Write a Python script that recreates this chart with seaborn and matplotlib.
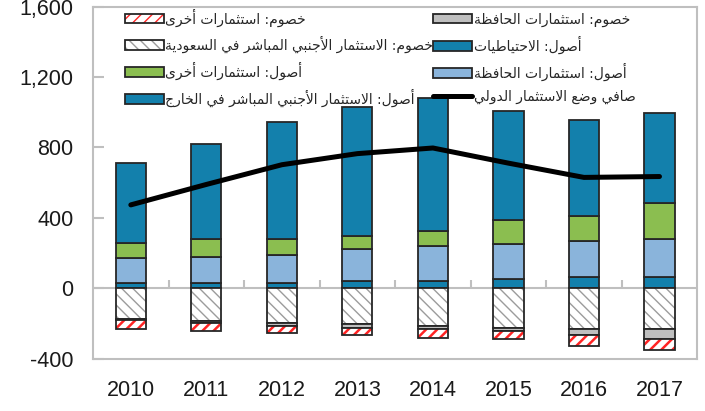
import matplotlib
matplotlib.use("Agg")
import matplotlib.pyplot as plt
import numpy as np
import seaborn as sns
from matplotlib.lines import Line2D
from matplotlib.patches import Patch
from matplotlib.ticker import FuncFormatter

# data (billion USD)
years = ["2010", "2011", "2012", "2013", "2014", "2015", "2016", "2017"]
fdi_abroad = [28, 28, 32, 40, 42, 52, 62, 62]
portfolio_assets = [143, 152, 158, 182, 199, 200, 207, 217]
other_assets = [89, 99, 89, 76, 85, 137, 144, 205]
reserves = [451, 542, 664, 732, 755, 616, 541, 512]
fdi_in_saudi = [-176, -188, -199, -205, -214, -224, -229, -230]
portfolio_liab = [-5, -6, -15, -22, -19, -19, -38, -59]
other_liab = [-49, -49, -38, -40, -48, -47, -61, -62]
net_iip = [474, 590, 702, 765, 797, 711, 630, 635]
yticks = [-400, 0, 400, 800, 1200, 1600]

lbl_other_liab = "خصوم: استثمارات أخرى"
lbl_fdi_in = "خصوم: الاستثمار الأجنبي المباشر في السعودية"
lbl_other_assets = "أصول: استثمارات أخرى"
lbl_fdi_abroad = "أصول: الاستثمار الأجنبي المباشر في الخارج"
lbl_port_liab = "خصوم: استثمارات الحافظة"
lbl_reserves = "أصول: الاحتياطيات"
lbl_port_assets = "أصول: استثمارات الحافظة"
lbl_net = "صافي وضع الاستثمار الدولي"

# simple Arabic shaping: matplotlib does not join letters or reverse RTL text
FORMS = {
    "ا": ("\uFE8D", "\uFE8E", None, None), "أ": ("\uFE83", "\uFE84", None, None),
    "ب": ("\uFE8F", "\uFE90", "\uFE91", "\uFE92"), "ة": ("\uFE93", "\uFE94", None, None),
    "ت": ("\uFE95", "\uFE96", "\uFE97", "\uFE98"), "ث": ("\uFE99", "\uFE9A", "\uFE9B", "\uFE9C"),
    "ج": ("\uFE9D", "\uFE9E", "\uFE9F", "\uFEA0"), "ح": ("\uFEA1", "\uFEA2", "\uFEA3", "\uFEA4"),
    "خ": ("\uFEA5", "\uFEA6", "\uFEA7", "\uFEA8"), "د": ("\uFEA9", "\uFEAA", None, None),
    "ذ": ("\uFEAB", "\uFEAC", None, None), "ر": ("\uFEAD", "\uFEAE", None, None),
    "ز": ("\uFEAF", "\uFEB0", None, None), "س": ("\uFEB1", "\uFEB2", "\uFEB3", "\uFEB4"),
    "ش": ("\uFEB5", "\uFEB6", "\uFEB7", "\uFEB8"), "ص": ("\uFEB9", "\uFEBA", "\uFEBB", "\uFEBC"),
    "ض": ("\uFEBD", "\uFEBE", "\uFEBF", "\uFEC0"), "ط": ("\uFEC1", "\uFEC2", "\uFEC3", "\uFEC4"),
    "ظ": ("\uFEC5", "\uFEC6", "\uFEC7", "\uFEC8"), "ع": ("\uFEC9", "\uFECA", "\uFECB", "\uFECC"),
    "غ": ("\uFECD", "\uFECE", "\uFECF", "\uFED0"), "ف": ("\uFED1", "\uFED2", "\uFED3", "\uFED4"),
    "ق": ("\uFED5", "\uFED6", "\uFED7", "\uFED8"), "ك": ("\uFED9", "\uFEDA", "\uFEDB", "\uFEDC"),
    "ل": ("\uFEDD", "\uFEDE", "\uFEDF", "\uFEE0"), "م": ("\uFEE1", "\uFEE2", "\uFEE3", "\uFEE4"),
    "ن": ("\uFEE5", "\uFEE6", "\uFEE7", "\uFEE8"), "ه": ("\uFEE9", "\uFEEA", "\uFEEB", "\uFEEC"),
    "و": ("\uFEED", "\uFEEE", None, None), "ى": ("\uFEEF", "\uFEF0", None, None),
    "ي": ("\uFEF1", "\uFEF2", "\uFEF3", "\uFEF4"),
}
LAM_ALEF = {"ا": ("\uFEFB", "\uFEFC"), "أ": ("\uFEF7", "\uFEF8")}


def joins_next(c):
    return c in FORMS and FORMS[c][2] is not None


def shape(text):
    out = []
    i = 0
    while i < len(text):
        c = text[i]
        prev = text[i - 1] if i > 0 else ""
        nxt = text[i + 1] if i + 1 < len(text) else ""
        if c not in FORMS:
            out.append(c)
            i += 1
            continue
        cp = joins_next(prev)
        if c == "ل" and nxt in LAM_ALEF:
            out.append(LAM_ALEF[nxt][1 if cp else 0])
            i += 2
            continue
        cn = joins_next(c) and nxt in FORMS
        iso, fin, ini, med = FORMS[c]
        if cp and cn:
            out.append(med)
        elif cp:
            out.append(fin)
        elif cn:
            out.append(ini)
        else:
            out.append(iso)
        i += 1
    return "".join(out)[::-1]


sns.set_theme(style="white")
plt.rcParams["font.family"] = ["Liberation Sans", "DejaVu Sans"]

BLUE = "#1380AC"
LIGHT = "#8AB4DB"
GREEN = "#8BBE50"
GRAY = "#BFBFBF"
RED = "#FF2424"
HATCH_GRAY = "#9C9C9C"
EDGE = "#262626"
FRAME = "#BFBFBF"
W = 0.4
LW = 1.3

fig = plt.figure(figsize=(7.05, 4.11), dpi=100)
ax = fig.add_axes([0.132, 0.127, 0.857, 0.857])

pos = np.array(fdi_abroad)
sns.barplot(x=years, y=fdi_abroad, color=BLUE, edgecolor=EDGE, linewidth=LW,
            width=W, saturation=1, errorbar=None, ax=ax)
sns.barplot(x=years, y=portfolio_assets, bottom=pos, color=LIGHT, edgecolor=EDGE,
            linewidth=LW, width=W, saturation=1, errorbar=None, ax=ax)
pos = pos + np.array(portfolio_assets)
sns.barplot(x=years, y=other_assets, bottom=pos, color=GREEN, edgecolor=EDGE,
            linewidth=LW, width=W, saturation=1, errorbar=None, ax=ax)
pos = pos + np.array(other_assets)
sns.barplot(x=years, y=reserves, bottom=pos, color=BLUE, edgecolor=EDGE,
            linewidth=LW, width=W, saturation=1, errorbar=None, ax=ax)

# liabilities below zero
plt.rcParams["hatch.linewidth"] = 1.0
sns.barplot(x=years, y=fdi_in_saudi, color="white", edgecolor=HATCH_GRAY, linewidth=0,
            hatch="\\\\\\", width=W, saturation=1, errorbar=None, ax=ax)
sns.barplot(x=years, y=fdi_in_saudi, fill=False, color=EDGE, linewidth=LW,
            width=W, errorbar=None, ax=ax)
neg = np.array(fdi_in_saudi)
sns.barplot(x=years, y=portfolio_liab, bottom=neg, color=GRAY, edgecolor=EDGE,
            linewidth=LW, width=W, saturation=1, errorbar=None, ax=ax)
neg = neg + np.array(portfolio_liab)
plt.rcParams["hatch.linewidth"] = 1.8
sns.barplot(x=years, y=other_liab, bottom=neg, color="white", edgecolor=RED, linewidth=0,
            hatch="///", width=W, saturation=1, errorbar=None, ax=ax)
sns.barplot(x=years, y=other_liab, bottom=neg, fill=False, color=EDGE, linewidth=LW,
            width=W, errorbar=None, ax=ax)

sns.lineplot(x=np.arange(len(years)), y=net_iip, color="black", linewidth=3.6, ax=ax,
             solid_capstyle="round", zorder=5)

# zero line with small separators between years
ax.axhline(0, color=FRAME, lw=1.5, zorder=0.5)
ax.vlines(np.arange(len(years) - 1) + 0.5, 0, 50, color=FRAME, lw=1.5, zorder=0.5)

ax.set_xlim(-0.5, len(years) - 0.5)
ax.set_ylim(yticks[0], yticks[-1])
ax.set_yticks(yticks)
ax.yaxis.set_major_formatter(FuncFormatter(lambda v, p: f"{v:,.0f}"))
ax.set_xlabel("")
ax.set_ylabel("")
ax.tick_params(axis="y", direction="in", length=8, width=1.5, color=FRAME,
               labelsize=15.5, labelcolor="#1a1a1a", pad=14, left=True)
ax.tick_params(axis="x", length=0, labelsize=15.5, labelcolor="#1a1a1a", pad=15)
for s in ax.spines.values():
    s.set_visible(True)
    s.set_color(FRAME)
    s.set_linewidth(1.5)

plt.rcParams["hatch.linewidth"] = 1.8
h_red = (Patch(facecolor="white", edgecolor=RED, hatch="///", lw=0),
         Patch(facecolor="none", edgecolor=EDGE, lw=LW))
plt.rcParams["hatch.linewidth"] = 1.0
h_fdi_in = (Patch(facecolor="white", edgecolor=HATCH_GRAY, hatch="\\\\\\", lw=0),
            Patch(facecolor="none", edgecolor=EDGE, lw=LW))
handles = [
    h_red, h_fdi_in,
    Patch(facecolor=GREEN, edgecolor=EDGE, lw=LW),
    Patch(facecolor=BLUE, edgecolor=EDGE, lw=LW),
    Patch(facecolor=GRAY, edgecolor=EDGE, lw=LW),
    Patch(facecolor=BLUE, edgecolor=EDGE, lw=LW),
    Patch(facecolor=LIGHT, edgecolor=EDGE, lw=LW),
    Line2D([], [], color="black", lw=3.6),
]
labels = [lbl_other_liab, lbl_fdi_in, lbl_other_assets, lbl_fdi_abroad,
          lbl_port_liab, lbl_reserves, lbl_port_assets, lbl_net]
ax.legend(handles, [shape(t) for t in labels], ncol=2, loc="upper left",
          bbox_to_anchor=(0.053, 0.995), frameon=False, borderaxespad=0, borderpad=0,
          prop={"family": "DejaVu Sans", "size": 10.0}, handlelength=2.8,
          handleheight=0.7, handletextpad=0.1, columnspacing=0.0, labelspacing=0.65)

fig.savefig("out.png", dpi=100)
